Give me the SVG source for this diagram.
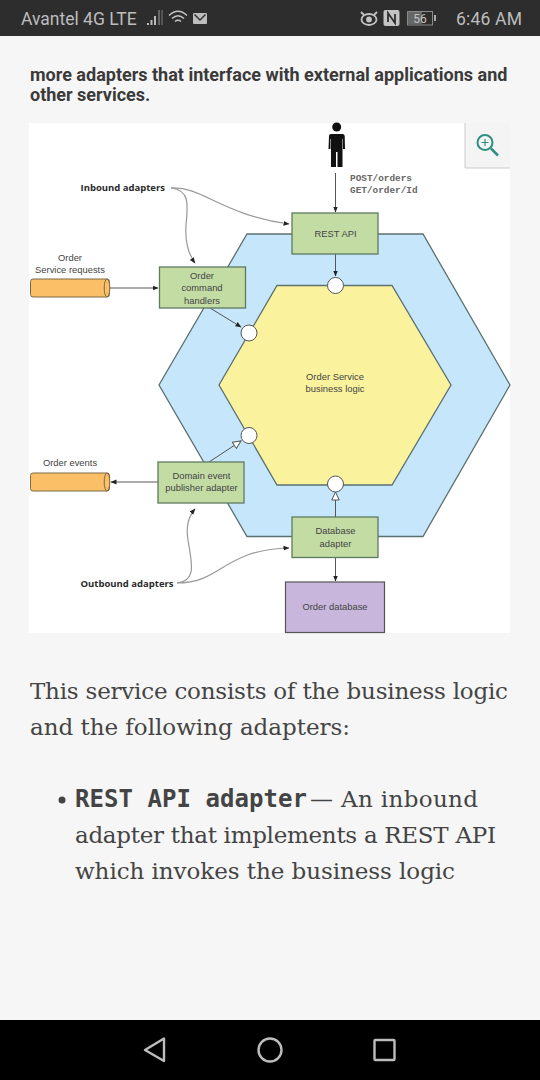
<svg xmlns="http://www.w3.org/2000/svg" width="540" height="1080" viewBox="0 0 540 1080">
<defs>
<style>
.lb{font-family:"Liberation Sans",Arial,sans-serif;font-size:9.400px;fill:#444;text-anchor:middle}
.bl{font-family:"Open Sans","DejaVu Sans",sans-serif;font-size:9.500px;font-weight:700;fill:#2a2a2a}
.mono{font-family:"Liberation Mono",monospace;font-size:9.400px;font-weight:700;fill:#666}
.box{fill:#c3dca4;stroke:#5e7a5e;stroke-width:1.300}
.hex{stroke:#5c7070;stroke-width:1.300}
.con{fill:none;stroke:#444;stroke-width:.9}
.cur{fill:none;stroke:#999;stroke-width:1.200}
.port{fill:#fff;stroke:#555;stroke-width:1}
.cyl{fill:#fbbf68;stroke:#7a6a45;stroke-width:1}
.body{font-family:"DejaVu Serif","Liberation Serif",serif;font-size:23px;fill:#444}
.status{font-family:Roboto,"Noto Sans",sans-serif;font-size:17.500px;fill:#bdbdbd}
.nav{fill:none;stroke:#bdbdbd;stroke-width:2.400;stroke-linejoin:round}
</style>
<marker id="a" markerWidth="7" markerHeight="6" refX="5.500" refY="3" orient="auto" markerUnits="userSpaceOnUse"><path d="M0 .6L6 3L0 5.400z" fill="#222"/></marker>
<marker id="o" markerWidth="10" markerHeight="9" refX="8.500" refY="4.500" orient="auto" markerUnits="userSpaceOnUse"><path d="M.5 .8L8.500 4.500L.5 8.200z" fill="#fff" stroke="#555"/></marker>
</defs>
<rect width="540" height="1080" fill="#f6f6f6"/>

<g id="status-bar">
<rect width="540" height="36" fill="#2d2d2d"/>
<text class="status" x="21" y="24.500">Avantel 4G LTE</text>
<g fill="#bdbdbd"><rect x="147" y="23" width="2" height="2"/><rect x="150.500" y="20" width="2" height="5"/><rect x="154" y="16" width="2" height="9"/><rect x="158" y="10" width="2" height="15" fill="#666"/><rect x="161" y="10" width="2" height="15" fill="#555"/></g>
<g fill="none" stroke="#c4c4c4" stroke-width="1.500"><path d="M169 15.500Q178 7 187 15.500"/><path d="M172 18.500Q178 13 184 18.500"/><path d="M175 21.500Q178 19 181 21.500"/></g>
<rect x="193" y="13" width="14" height="11" fill="#bdbdbd" rx="1"/><path d="M194.500 14.500L200 20L205.500 14.500" fill="none" stroke="#333" stroke-width="1.500"/>
<g fill="none" stroke="#c4c4c4" stroke-width="1.800"><ellipse cx="369" cy="19.500" rx="7.500" ry="5.500"/><circle cx="369" cy="19.500" r="2" fill="#c4c4c4"/><path d="M361 12L364 15M377 12L374 15"/></g>
<rect x="383.500" y="10" width="16" height="16" rx="2" fill="#c4c4c4"/><path d="M388 22V13L395 23V14" fill="none" stroke="#2d2d2d" stroke-width="1.800"/>
<rect x="407.500" y="11.500" width="25" height="13.500" fill="#2d2d2d" stroke="#8a8a8a"/><rect x="408" y="12" width="14" height="12.500" fill="#666"/><rect x="434" y="15" width="2" height="6" fill="#aaa"/>
<text x="420" y="23" font-family="Roboto,sans-serif" font-size="12" fill="#c4c4c4" text-anchor="middle">56</text>
<text class="status" x="456" y="24.500" textLength="66">6:46 AM</text>
</g>

<g id="intro" font-family="Roboto,'Liberation Sans',sans-serif" font-size="18" font-weight="700" fill="#3a3a3a">
<text x="30" y="81">more adapters that interface with external applications and</text>
<text x="30" y="101">other services.</text>
</g>

<rect x="29" y="123" width="481" height="510" fill="#fff"/>

<g id="outer-hexagon"><polygon class="hex" points="247,234 423,234 510,385 423,536.500 247,536.500 159,385" fill="#c6e6fb"/></g>
<g id="inner-hexagon"><polygon class="hex" points="277,285.500 392,285.500 451,385 392,485 277,485 219,385" fill="#fbf29e"/></g>

<g id="connectors">
<path class="con" d="M335.500 173V212" marker-end="url(#a)"/>
<path class="con" d="M335.500 254V276" marker-end="url(#a)"/>
<path class="con" d="M110 288H158" marker-end="url(#a)"/>
<path class="con" d="M210 308L241 327" marker-end="url(#a)"/>
<path class="con" d="M158 482H111" marker-end="url(#a)"/>
<path class="con" d="M209 462L241 441" marker-end="url(#o)"/>
<path class="con" d="M335.500 517V492" marker-end="url(#o)"/>
<path class="con" d="M335.500 557V581" marker-end="url(#a)"/>
<path class="cur" d="M171 188C202 186 222 215 289 224" marker-end="url(#a)"/>
<path class="cur" d="M171 188C190 190 188 205 186 225C185 240 187 252 195 263" marker-end="url(#a)"/>
<path class="cur" d="M177 583C222 583 222 550 289 548" marker-end="url(#a)"/>
<path class="cur" d="M177 583C198 581 191 560 188 540C186 528 188 517 195 509" marker-end="url(#a)"/>
</g>

<g id="person" fill="#111">
<circle cx="336.700" cy="127" r="4.500"/>
<path d="M331 134H342.500Q344.500 134 344.700 136L345 149H343V139H342.500V167H337.500V152H336V167H331V139H330.500V149H328.500L329 136Q329 134 331 134z"/>
<text class="mono" x="350" y="181">POST/orders</text>
<text class="mono" x="350" y="193">GET/order/Id</text>
</g>

<g id="inbound-label"><text class="bl" x="80.500" y="191">Inbound adapters</text></g>
<g id="outbound-label"><text class="bl" x="80.500" y="587">Outbound adapters</text></g>

<g id="rest-api"><rect class="box" x="292" y="213" width="86" height="41"/><text class="lb" x="335.500" y="237">REST API</text></g>
<g id="command-handlers"><rect class="box" x="159.500" y="267" width="86" height="41"/><text class="lb" x="202" y="279">Order</text><text class="lb" x="202" y="291">command</text><text class="lb" x="202" y="304">handlers</text></g>
<g id="domain-publisher"><rect class="box" x="158" y="462" width="86" height="41"/><text class="lb" x="201.500" y="479">Domain event</text><text class="lb" x="201.500" y="491">publisher adapter</text></g>
<g id="database-adapter"><rect class="box" x="292" y="517" width="86" height="40.500"/><text class="lb" x="335.500" y="534">Database</text><text class="lb" x="335.500" y="547">adapter</text></g>
<g id="order-database"><rect x="285.500" y="582" width="99" height="50.500" fill="#c9b6dc" stroke="#555" stroke-width="1.200"/><text class="lb" x="335" y="610">Order database</text></g>
<g id="business-logic"><text class="lb" x="335" y="380">Order Service</text><text class="lb" x="335" y="392">business logic</text></g>

<g id="port-top"><circle class="port" cx="335.500" cy="285.500" r="8"/></g>
<g id="port-upper-left"><circle class="port" cx="249" cy="333" r="8"/></g>
<g id="port-lower-left"><circle class="port" cx="249" cy="435.500" r="8"/></g>
<g id="port-bottom"><circle class="port" cx="335.500" cy="484" r="8"/></g>

<g id="requests-queue"><text class="lb" x="70" y="261">Order</text><text class="lb" x="70" y="273">Service requests</text>
<rect class="cyl" x="30.500" y="279" width="79" height="18" rx="2.500"/><ellipse class="cyl" cx="107" cy="288" rx="2.800" ry="9"/></g>
<g id="events-queue"><text class="lb" x="70" y="466">Order events</text>
<rect class="cyl" x="30.500" y="473" width="79" height="18" rx="2.500"/><ellipse class="cyl" cx="107" cy="482" rx="2.800" ry="9"/></g>

<g id="zoom-button">
<rect x="465" y="123" width="45" height="45" fill="#f4f4f4"/><path d="M465 123V168H510" fill="none" stroke="#ccc"/>
<circle cx="485" cy="142.500" r="7.500" fill="none" stroke="#2f8f80" stroke-width="2"/><path d="M491 148.500L498 155.500" stroke="#2f8f80" stroke-width="2.500"/><path d="M481.500 142.500H488.500M485 139V146" stroke="#2f8f80" stroke-width="1.200"/>
</g>

<g id="body-text" class="body">
<text x="30" y="699" textLength="478">This service consists of the business logic</text>
<text x="30" y="735" textLength="320">and the following adapters:</text>
<circle cx="62" cy="800" r="3.500" fill="#444"/>
<text x="75" y="807" font-family="'DejaVu Sans Mono','Liberation Mono',monospace" font-size="24" font-weight="700" textLength="232">REST API adapter</text>
<text x="310" y="807" textLength="168">— An inbound</text>
<text x="75" y="843" textLength="421">adapter that implements a REST API</text>
<text x="75" y="879" textLength="380">which invokes the business logic</text>
</g>

<g id="nav-bar">
<rect y="1020" width="540" height="60" fill="#000"/>
<path class="nav" d="M164 1038.500V1061L145 1050z"/>
<circle class="nav" cx="270" cy="1050" r="11.500"/>
<rect class="nav" x="374.500" y="1040" width="20" height="20" rx="1"/>
</g>
</svg>
